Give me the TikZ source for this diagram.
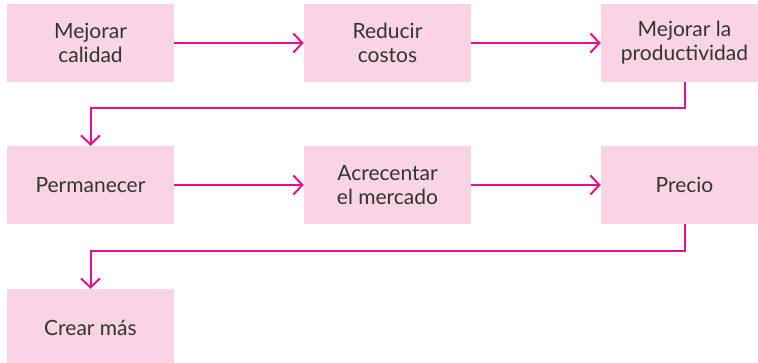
\documentclass[tikz,border=0pt]{standalone}
\usepackage{fontspec}
\setmainfont{Lato}
\usetikzlibrary{arrows.meta}
\definecolor{boxpink}{HTML}{F9D4E5}
\definecolor{linemag}{HTML}{E8108A}
\definecolor{txt}{HTML}{333333}
\tikzset{
  box/.style={fill=boxpink, draw=none, minimum width=167pt, minimum height=78pt,
    inner sep=0pt, align=center, text=txt, font=\fontsize{21}{24}\selectfont},
  conn/.style={draw=linemag, line width=2pt,
    -{Straight Barb[length=9pt,width=19pt,line width=2pt]}}
}
\begin{document}
\begin{tikzpicture}[x=1pt,y=-1pt]
\useasboundingbox (0,0) rectangle (758,363);
\clip (0,0) rectangle (758,363);
\node[box] (b1) at (90.5,43) {Mejorar\\calidad};
\node[box] (b2) at (387.5,43) {Reducir\\costos};
\node[box] (b3) at (684.5,43) {Mejorar la\\productividad};
\node[box] (b4) at (90.5,185) {Permanecer};
\node[box] (b5) at (387.5,185) {Acrecentar\\el mercado};
\node[box] (b6) at (684.5,185) {Precio};
\node[box] (b7) at (90.5,328) {Crear más};
\coordinate (k1) at (684.5,108.5);
\coordinate (k2) at (684.5,251);
\draw[conn] (b1) -- (b2);
\draw[conn] (b2) -- (b3);
\draw[conn] (b3.south) -- (k1) -| (b4.north);
\draw[conn] (b4) -- (b5);
\draw[conn] (b5) -- (b6);
\draw[conn] (b6.south) -- (k2) -| (b7.north);
\end{tikzpicture}
\end{document}
